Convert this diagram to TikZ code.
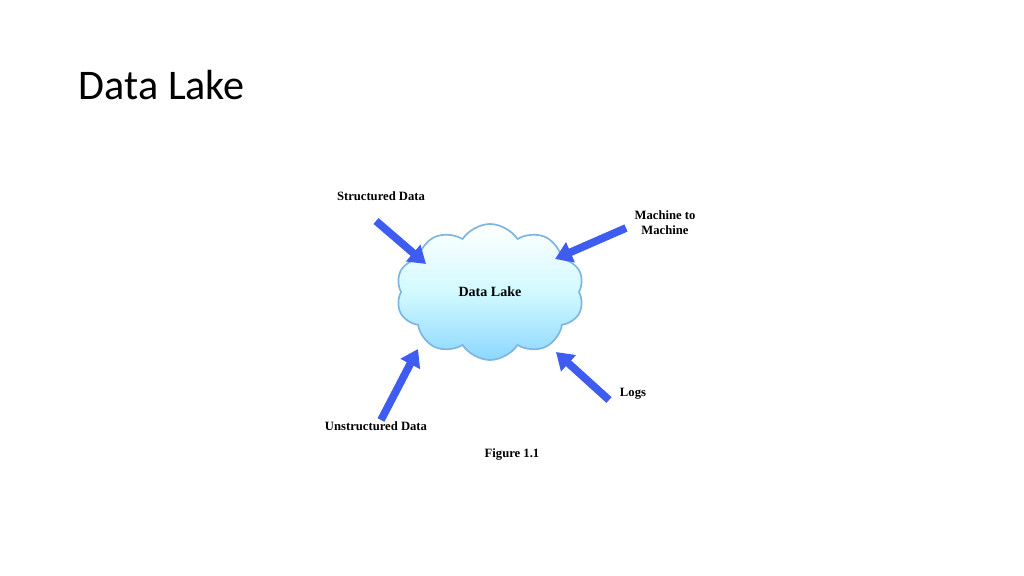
\documentclass[tikz,border=0pt]{standalone}
\usepackage{fontspec}
\setmainfont{Liberation Serif}
\newfontfamily\titlefont{Carlito}
\usetikzlibrary{shapes.symbols, arrows.meta}

\definecolor{feedblue}{HTML}{3F5CF0}
\definecolor{lakeedge}{HTML}{7FB6E0}

\begin{document}
\begin{tikzpicture}[x=0.025cm, y=-0.025cm,
    lake/.style={cloud, cloud puffs=10, cloud puff arc=115, aspect=1.5, draw=lakeedge, line width=1.2pt,
        top color=white, bottom color=blue!35!cyan!45, middle color=blue!12!cyan!18,
        minimum width=4.7cm, minimum height=3.4cm, font=\bfseries\fontsize{10}{12}\selectfont},
    label/.style={font=\bfseries\fontsize{9}{10.5}\selectfont, align=center},
    feed/.style={draw=feedblue, line width=5.5pt, -{Triangle[width=15pt, length=12pt]}}
]
    \useasboundingbox (0,0) rectangle (1024,576);

    % Title
    \node [anchor=west, font=\titlefont\fontsize{30}{36}\selectfont] (title) at (74,85) {Data Lake};

    % Cloud
    \node [lake] (lake) at (490,292) {Data Lake};

    % Sources
    \node [label] (struct) at (381,196) {Structured Data};
    \node [label] (m2m) at (665,223) {Machine to\\Machine};
    \node [label] (unstruct) at (376,426) {Unstructured Data};
    \node [label] (logs) at (633,394) {Logs};
    \node [label] (fig) at (512,455) {Figure 1.1};

    % Arrow ends
    \coordinate (s0) at (376,221);
    \coordinate (s1) at (426,264);
    \coordinate (m0) at (626,228);
    \coordinate (m1) at (555,259);
    \coordinate (u0) at (381,420);
    \coordinate (u1) at (418,349);
    \coordinate (l0) at (609,400);
    \coordinate (l1) at (556,352);

    % Feeds
    \draw [feed] (s0) -- (s1);
    \draw [feed] (m0) -- (m1);
    \draw [feed] (u0) -- (u1);
    \draw [feed] (l0) -- (l1);
\end{tikzpicture}
\end{document}
